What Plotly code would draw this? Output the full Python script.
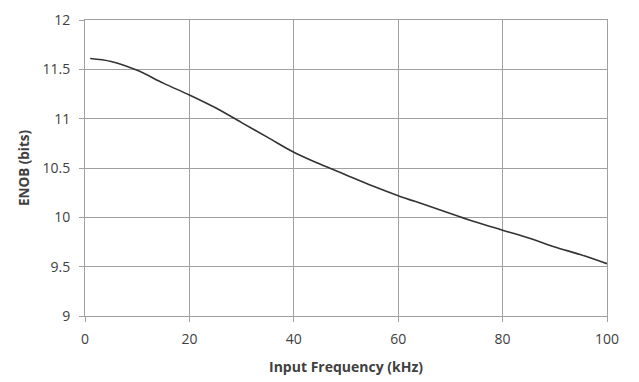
import plotly.graph_objects as go

freq_khz = [1, 5, 10, 15, 20, 25, 30, 35, 40, 45, 50, 55, 60, 65, 70, 75, 80, 85, 90, 95, 100]
enob_bits = [11.61, 11.58, 11.49, 11.36, 11.24, 11.11, 10.96, 10.81, 10.66, 10.54, 10.43, 10.32, 10.22, 10.13, 10.04, 9.95, 9.87, 9.79, 9.70, 9.62, 9.53]

x_ticks = [0, 20, 40, 60, 80, 100]
y_ticks = [9, 9.5, 10, 10.5, 11, 11.5, 12]

grid = "#a0a0a0"
txt = "#404040"

fig = go.Figure()
fig.add_trace(go.Scatter(
    x=freq_khz, y=enob_bits, mode="lines",
    line=dict(color="#333333", width=1.6, shape="spline", smoothing=1.0),
    showlegend=False, hoverinfo="skip",
))

axis_common = dict(
    showgrid=True, gridcolor=grid, gridwidth=1,
    showline=True, linecolor=grid, linewidth=1, mirror=True,
    ticks="outside", ticklen=5, tickcolor=grid, tickwidth=1,
    zeroline=False,
    tickfont=dict(family="Open Sans", size=14, color=txt),
)

fig.update_layout(
    width=631, height=374,
    margin=dict(l=77, r=32, t=12, b=66),
    paper_bgcolor="white", plot_bgcolor="white",
    xaxis=dict(
        range=[0, 100], tickvals=x_ticks,
        ticklabelstandoff=5,
        title=dict(text="Input Frequency (kHz)", standoff=15,
                   font=dict(family="Open Sans", size=14, color=txt, weight="bold")),
        automargin=False,
        **axis_common,
    ),
    yaxis=dict(
        range=[9, 12], tickvals=y_ticks, ticktext=[f"{v:g}" for v in y_ticks],
        ticklabelstandoff=6,
        title=dict(text="ENOB (bits)", standoff=9,
                   font=dict(family="Open Sans", size=13.5, color=txt, weight="bold")),
        automargin=False,
        **axis_common,
    ),
)

fig.write_html("out.html")
